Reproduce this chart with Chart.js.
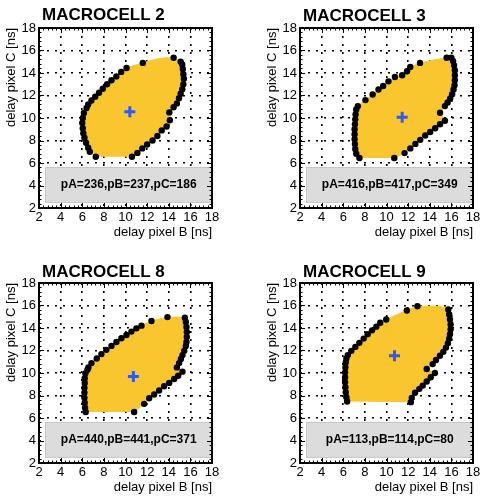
<!DOCTYPE html>
<html>
<head>
<meta charset="utf-8">
<script src="https://cdn.jsdelivr.net/npm/chart.js@4.4.0/dist/chart.umd.min.js"></script>
<style>
    body { margin: 0; background: #fff; }
    #wrap { position: relative; width: 480px; height: 500px; overflow: hidden; background: #fff; }
    #wrap canvas { position: absolute; }
</style>
</head>
<body>
<div id="wrap">
    <canvas id="mc2" width="240" height="250" style="left:0;top:0"></canvas>
    <canvas id="mc3" width="240" height="250" style="left:261px;top:0"></canvas>
    <canvas id="mc8" width="240" height="250" style="left:0;top:255px"></canvas>
    <canvas id="mc9" width="240" height="250" style="left:261px;top:255px"></canvas>
</div>
<script>
// Axis setup shared by the four panels
var axisTicks = [2, 4, 6, 8, 10, 12, 14, 16, 18];
var minorStep = 0.4;
var xTitle = 'delay pixel B [ns]';
var yTitle = 'delay pixel C [ns]';

// Grey info box (data coordinates)
var boxX = [2.6, 18];
var boxY = [2.5, 5.6];

// MACROCELL 2: boundary points, left side bottom->top, right side top->bottom
var mc2Left = [[7.25, 6.55], [6.7, 7.0], [6.55, 7.35], [6.35, 7.8], [6.2, 8.25], [6.1, 8.65], [6.05, 9.1],
    [6.0, 9.55], [6.05, 10.0], [6.15, 10.45], [6.4, 10.9], [6.55, 11.2], [6.85, 11.55], [7.2, 11.9],
    [7.55, 12.25], [7.9, 12.6], [8.3, 13.0], [8.7, 13.35], [9.15, 13.7], [9.6, 14.1], [10.1, 14.45], [11.6, 14.9]];
var mc2Top = [[12.9, 15.25], [13.8, 15.35]];
var mc2Right = [[14.45, 15.35], [15.1, 15.0], [15.25, 14.75], [15.3, 14.35], [15.35, 13.9], [15.4, 13.5],
    [15.35, 13.0], [15.25, 12.55], [15.1, 12.15], [14.95, 11.75], [14.75, 11.3], [14.45, 10.95], [14.05, 10.5],
    [14.1, 9.8], [13.8, 9.25], [13.35, 8.9], [12.95, 8.4], [12.5, 8.0], [12.0, 7.65], [11.55, 7.3], [11.1, 6.9], [10.6, 6.55]];
var mc2Center = [10.4, 10.55];
var mc2Label = 'pA=236,pB=237,pC=186';

// MACROCELL 3
var mc3Left = [[7.5, 6.44], [7.2, 6.82], [7.11, 7.24], [7.08, 7.68], [7.05, 8.12], [7.05, 8.56], [7.05, 9.0],
    [7.08, 9.44], [7.11, 9.88], [7.14, 10.32], [7.2, 10.76], [7.35, 11.06], [8.05, 11.59], [8.72, 12.09],
    [9.26, 12.53], [9.69, 12.85], [10.18, 13.26], [10.78, 13.65], [11.45, 13.8], [11.9, 14.15], [12.2, 14.53], [13.1, 14.9]];
var mc3Top = [[14.6, 15.2]];
var mc3Right = [[15.56, 15.35], [16.0, 15.35], [16.16, 15.06], [16.25, 14.68], [16.32, 14.24], [16.32, 13.8],
    [16.32, 13.35], [16.29, 12.91], [16.2, 12.53], [16.07, 12.12], [15.89, 11.74], [15.65, 11.38], [15.4, 11.06],
    [14.95, 10.47], [15.4, 9.76], [14.95, 9.44], [14.5, 9.09], [14.04, 8.76], [13.58, 8.44], [13.12, 8.06],
    [12.67, 7.7], [12.2, 7.3], [11.67, 6.88], [10.72, 6.44]];
var mc3Center = [11.45, 10.06];
var mc3Label = 'pA=416,pB=417,pC=349';

// MACROCELL 8
var mc8Left = [[6.32, 6.53], [6.26, 6.91], [6.23, 7.35], [6.2, 7.79], [6.2, 8.24], [6.2, 8.68], [6.23, 9.12],
    [6.23, 9.53], [6.29, 9.97], [6.48, 10.29], [6.57, 10.5], [6.85, 10.88], [7.34, 11.29], [7.77, 11.68],
    [8.23, 12.06], [8.7, 12.41], [9.16, 12.76], [9.62, 13.09], [10.09, 13.38], [10.55, 13.68], [11.01, 13.97],
    [11.48, 14.21], [12.4, 14.62], [13.88, 14.97]];
var mc8Top = [[15.0, 14.97]];
var mc8Right = [[15.49, 14.91], [15.58, 14.53], [15.64, 14.09], [15.67, 13.65], [15.67, 13.21], [15.64, 12.76],
    [15.58, 12.41], [15.43, 11.97], [15.27, 11.59], [15.12, 11.24], [14.96, 10.88], [14.75, 10.5], [15.27, 10.12],
    [14.87, 9.76], [14.5, 9.47], [14.04, 9.12], [13.57, 8.82], [13.11, 8.44], [12.65, 8.09], [12.19, 7.76],
    [11.72, 7.26], [10.8, 6.53]];
var mc8Center = [10.73, 9.68];
var mc8Label = 'pA=440,pB=441,pC=371';

// MACROCELL 9
var mc9Left = [[6.36, 7.47], [6.29, 7.85], [6.23, 8.29], [6.2, 8.74], [6.17, 9.18], [6.17, 9.62], [6.17, 10.06],
    [6.2, 10.5], [6.23, 10.94], [6.29, 11.29], [6.42, 11.59], [6.75, 11.97], [7.12, 12.32], [7.49, 12.68],
    [7.89, 13.06], [8.26, 13.44], [8.66, 13.79], [9.06, 14.12], [9.42, 14.47], [9.98, 14.76], [11.88, 15.56], [12.86, 15.94]];
var mc9Top = [[14.94, 15.94]];
var mc9Right = [[15.71, 15.65], [15.8, 15.21], [15.87, 14.76], [15.93, 14.32], [15.93, 13.88], [15.87, 13.44],
    [15.8, 13.06], [15.68, 12.65], [15.5, 12.26], [15.25, 11.88], [14.94, 11.53], [14.58, 11.15], [14.27, 10.79],
    [13.72, 10.35], [14.48, 10.0], [14.09, 9.62], [13.72, 9.24], [13.35, 8.88], [13.04, 8.59], [12.64, 8.24],
    [12.34, 7.79], [12.25, 7.41]];
var mc9Center = [10.74, 11.53];
var mc9Label = 'pA=113,pB=114,pC=80';

var fillColor = 'rgb(250, 198, 48)';
var crossColor = 'rgb(45, 90, 255)';

Chart.defaults.font.family = '"Liberation Sans", Arial, Helvetica, sans-serif';
Chart.defaults.color = '#000';

function toPoint(p) {
    return { x: p[0], y: p[1] };
}

// Frame with inner ticks, box text and panel title
var marcoPlugin = {
    id: 'marco',
    afterDatasetsDraw: function (chart, args, opts) {
        var ctx = chart.ctx;
        var a = chart.chartArea;
        var sx = chart.scales.x;
        var sy = chart.scales.y;
        ctx.save();

        ctx.fillStyle = '#000';
        ctx.font = 'bold 12px "Liberation Sans", Arial, sans-serif';
        ctx.textAlign = 'center';
        ctx.textBaseline = 'middle';
        ctx.fillText(opts.label, sx.getPixelForValue((boxX[0] + boxX[1]) / 2),
            sy.getPixelForValue((boxY[0] + boxY[1]) / 2));

        ctx.strokeStyle = '#000';
        ctx.lineWidth = 1;
        ctx.beginPath();
        var first = axisTicks[0];
        var last = axisTicks[axisTicks.length - 1];
        for (var v = first; v <= last + 1e-6; v += minorStep) {
            var major = axisTicks.some(function (t) { return Math.abs(t - v) < 1e-6; });
            var len = major ? 5 : 2.5;
            var px = Math.round(sx.getPixelForValue(v)) + 0.5;
            var py = Math.round(sy.getPixelForValue(v)) + 0.5;
            ctx.moveTo(px, a.bottom); ctx.lineTo(px, a.bottom - len);
            ctx.moveTo(px, a.top); ctx.lineTo(px, a.top + len);
            ctx.moveTo(a.left, py); ctx.lineTo(a.left + len, py);
            ctx.moveTo(a.right, py); ctx.lineTo(a.right - len, py);
        }
        ctx.stroke();

        ctx.lineWidth = 2;
        ctx.strokeRect(a.left, a.top, a.right - a.left, a.bottom - a.top);

        ctx.font = 'bold 17px "Liberation Sans", Arial, sans-serif';
        ctx.textAlign = 'left';
        ctx.textBaseline = 'alphabetic';
        ctx.fillText(opts.title, a.left + 3, opts.titleY);
        ctx.restore();
    }
};

function axisOptions(title, isX) {
    return {
        type: 'linear',
        min: axisTicks[0],
        max: axisTicks[axisTicks.length - 1],
        afterBuildTicks: function (scale) {
            scale.ticks = axisTicks.map(function (v) { return { value: v }; });
        },
        ticks: { font: { size: 13 }, padding: isX ? 2 : 3, maxRotation: 0, autoSkip: false },
        grid: { color: '#000', lineWidth: 1.6, drawTicks: false },
        border: { display: false, dash: [2, 6] },
        title: {
            display: true, text: title, align: 'end', font: { size: 13 },
            padding: isX ? { top: 0, bottom: 10 } : { top: 4, bottom: 0 }
        },
        afterFit: function (scale) {
            if (isX) { scale.height = 42; } else { scale.width = 39; }
        }
    };
}

// Creates one macrocell panel
function crearGrafica(id, titulo, left, top, right, center, label, titleY) {
    var ctx = document.getElementById(id).getContext('2d');
    var dots = left.concat(right).map(toPoint);
    var area = left.concat(top, right).map(toPoint);
    var box = [[boxX[0], boxY[0]], [boxX[1], boxY[0]], [boxX[1], boxY[1]], [boxX[0], boxY[1]], [boxX[0], boxY[0]]].map(toPoint);

    return new Chart(ctx, {
        type: 'scatter',
        data: {
            datasets: [
                { data: area, showLine: true, fill: 'shape', backgroundColor: fillColor, borderColor: fillColor,
                  borderWidth: 1, pointRadius: 0, order: 4 },
                { data: box, showLine: true, fill: 'shape', backgroundColor: '#dcdcdc', borderColor: '#c6c6c6',
                  borderWidth: 1, pointRadius: 0, order: 3 },
                { data: dots, pointRadius: 3.2, pointBackgroundColor: '#000', pointBorderWidth: 0, order: 2 },
                { data: [toPoint(center)], pointStyle: 'cross', pointRadius: 5.5, pointBorderWidth: 3,
                  pointBorderColor: crossColor, order: 1 }
            ]
        },
        options: {
            responsive: false,
            animation: false,
            events: [],
            layout: { padding: { top: 28, right: 28, left: 0, bottom: 0 } },
            plugins: {
                legend: { display: false },
                tooltip: { enabled: false },
                marco: { title: titulo, label: label, titleY: titleY }
            },
            scales: {
                x: axisOptions(xTitle, true),
                y: axisOptions(yTitle, false)
            }
        },
        plugins: [marcoPlugin]
    });
}

crearGrafica('mc2', 'MACROCELL 2', mc2Left, mc2Top, mc2Right, mc2Center, mc2Label, 20);
crearGrafica('mc3', 'MACROCELL 3', mc3Left, mc3Top, mc3Right, mc3Center, mc3Label, 21);
crearGrafica('mc8', 'MACROCELL 8', mc8Left, mc8Top, mc8Right, mc8Center, mc8Label, 22);
crearGrafica('mc9', 'MACROCELL 9', mc9Left, mc9Top, mc9Right, mc9Center, mc9Label, 22);
</script>
</body>
</html>
